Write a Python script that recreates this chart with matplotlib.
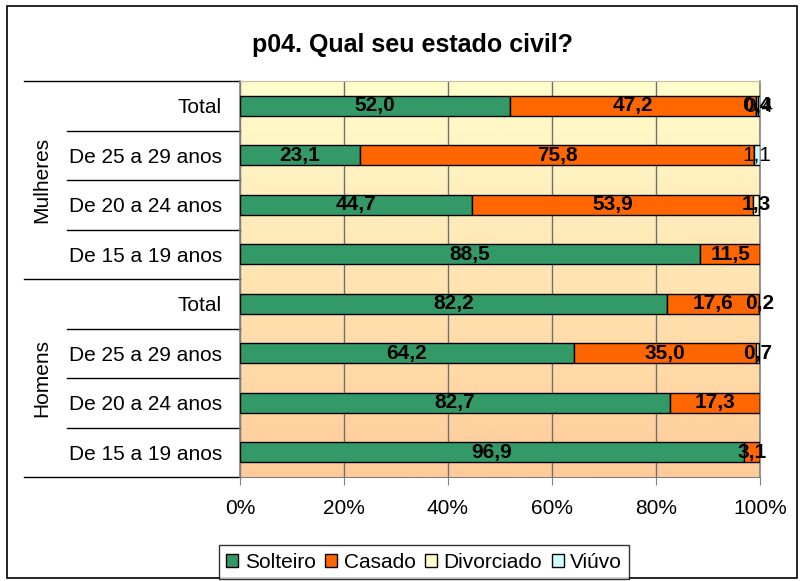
import matplotlib
matplotlib.use("Agg")
import matplotlib.pyplot as plt
import matplotlib.transforms as mtransforms
from matplotlib.colors import LinearSegmentedColormap
from matplotlib.lines import Line2D
from matplotlib.patches import Rectangle
import numpy as np

plt.rcParams['font.family'] = ['Liberation Sans', 'DejaVu Sans']

# rows from top to bottom
groups = ['Mulheres', 'Homens']
ages = ['Total', 'De 25 a 29 anos', 'De 20 a 24 anos', 'De 15 a 19 anos']
series = ['Solteiro', 'Casado', 'Divorciado', 'Viúvo']
solteiro = [52.0, 23.1, 44.7, 88.5, 82.2, 64.2, 82.7, 96.9]
casado = [47.2, 75.8, 53.9, 11.5, 17.6, 35.0, 17.3, 3.1]
divorciado = [0.4, 0.0, 1.3, 0.0, 0.2, 0.7, 0.0, 0.0]
viuvo = [0.4, 1.1, 0.0, 0.0, 0.0, 0.0, 0.0, 0.0]
colors = ['#339966', '#FF6600', '#FFFFCC', '#CCFFFF']
xticks = [0, 20, 40, 60, 80, 100]

fig = plt.figure(figsize=(8.03, 5.81), dpi=100)
fig.patches.append(Rectangle((0.009, 0.005), 0.984, 0.985, transform=fig.transFigure,
                             fill=False, edgecolor='black', linewidth=1.2))
ax = fig.add_axes([240/803, 1 - 477/581, 520/803, 396/581])

# gradient background
cmap = LinearSegmentedColormap.from_list('bg', ['#FFFDCC', '#FFCC99'])
grad = np.linspace(0, 1, 256).reshape(-1, 1)
ax.imshow(grad, cmap=cmap, aspect='auto', extent=[0, 1, 0, 1],
          transform=ax.transAxes, zorder=0)

data = [solteiro, casado, divorciado, viuvo]
y = np.arange(len(solteiro))
left = np.zeros(len(solteiro))
for name, vals, c in zip(series, data, colors):
    vals = np.array(vals)
    ax.barh(y, vals, left=left, height=0.4, color=c, edgecolor='black',
            linewidth=1, label=name, zorder=3)
    for i, v in enumerate(vals):
        if v > 0:
            ax.text(left[i] + v / 2, y[i], f'{v:.1f}'.replace('.', ','),
                    ha='center', va='center', fontsize=15,
                    fontweight='normal' if name == 'Viúvo' else 'bold', zorder=4)
    left += vals

ax.set_xlim(0, 100)
ax.set_ylim(len(solteiro) - 0.5, -0.5)
ax.set_xticks(xticks)
ax.set_xticklabels([f'{t}%' for t in xticks], fontsize=15)
ax.tick_params(axis='x', length=6, color='#808080', pad=10)
ax.grid(axis='x', color='#707070', linewidth=1, zorder=1)
ax.set_yticks(y)
ax.set_yticklabels(ages * 2, fontsize=15)
ax.tick_params(axis='y', length=0, pad=13)
for s in ['left', 'right']:
    ax.spines[s].set_color('#808080')
    ax.spines[s].set_linewidth(1.2)
ax.spines['top'].set_color('#C0C0A0')
ax.spines['bottom'].set_color('#808080')

# hierarchical category separators
tr = mtransforms.blended_transform_factory(fig.transFigure, ax.transData)
for b in np.arange(-0.5, len(solteiro), 1.0):
    x0 = 24/803 if b in (-0.5, 3.5, 7.5) else 67/803
    ax.add_line(Line2D([x0, 240/803], [b, b], transform=tr, color='black',
                       linewidth=1, clip_on=False))
for gi, g in enumerate(groups):
    ax.text(42/803, gi * 4 + 1.5, g, transform=tr, rotation=90, fontsize=15,
            ha='center', va='center')

fig.text(412/803, 1 - 45/581, 'p04. Qual seu estado civil?', ha='center', va='center',
         fontsize=18, fontweight='bold')

leg = fig.legend(loc='center', bbox_to_anchor=(424/803, 1 - 562/581), ncol=4,
                 fontsize=15, frameon=True, fancybox=False, edgecolor='black',
                 handlelength=0.6, handleheight=0.6, handletextpad=0.3,
                 columnspacing=0.45, borderpad=0.35, borderaxespad=0)
leg.get_frame().set_linewidth(1)

fig.savefig('out.png', dpi=100)
